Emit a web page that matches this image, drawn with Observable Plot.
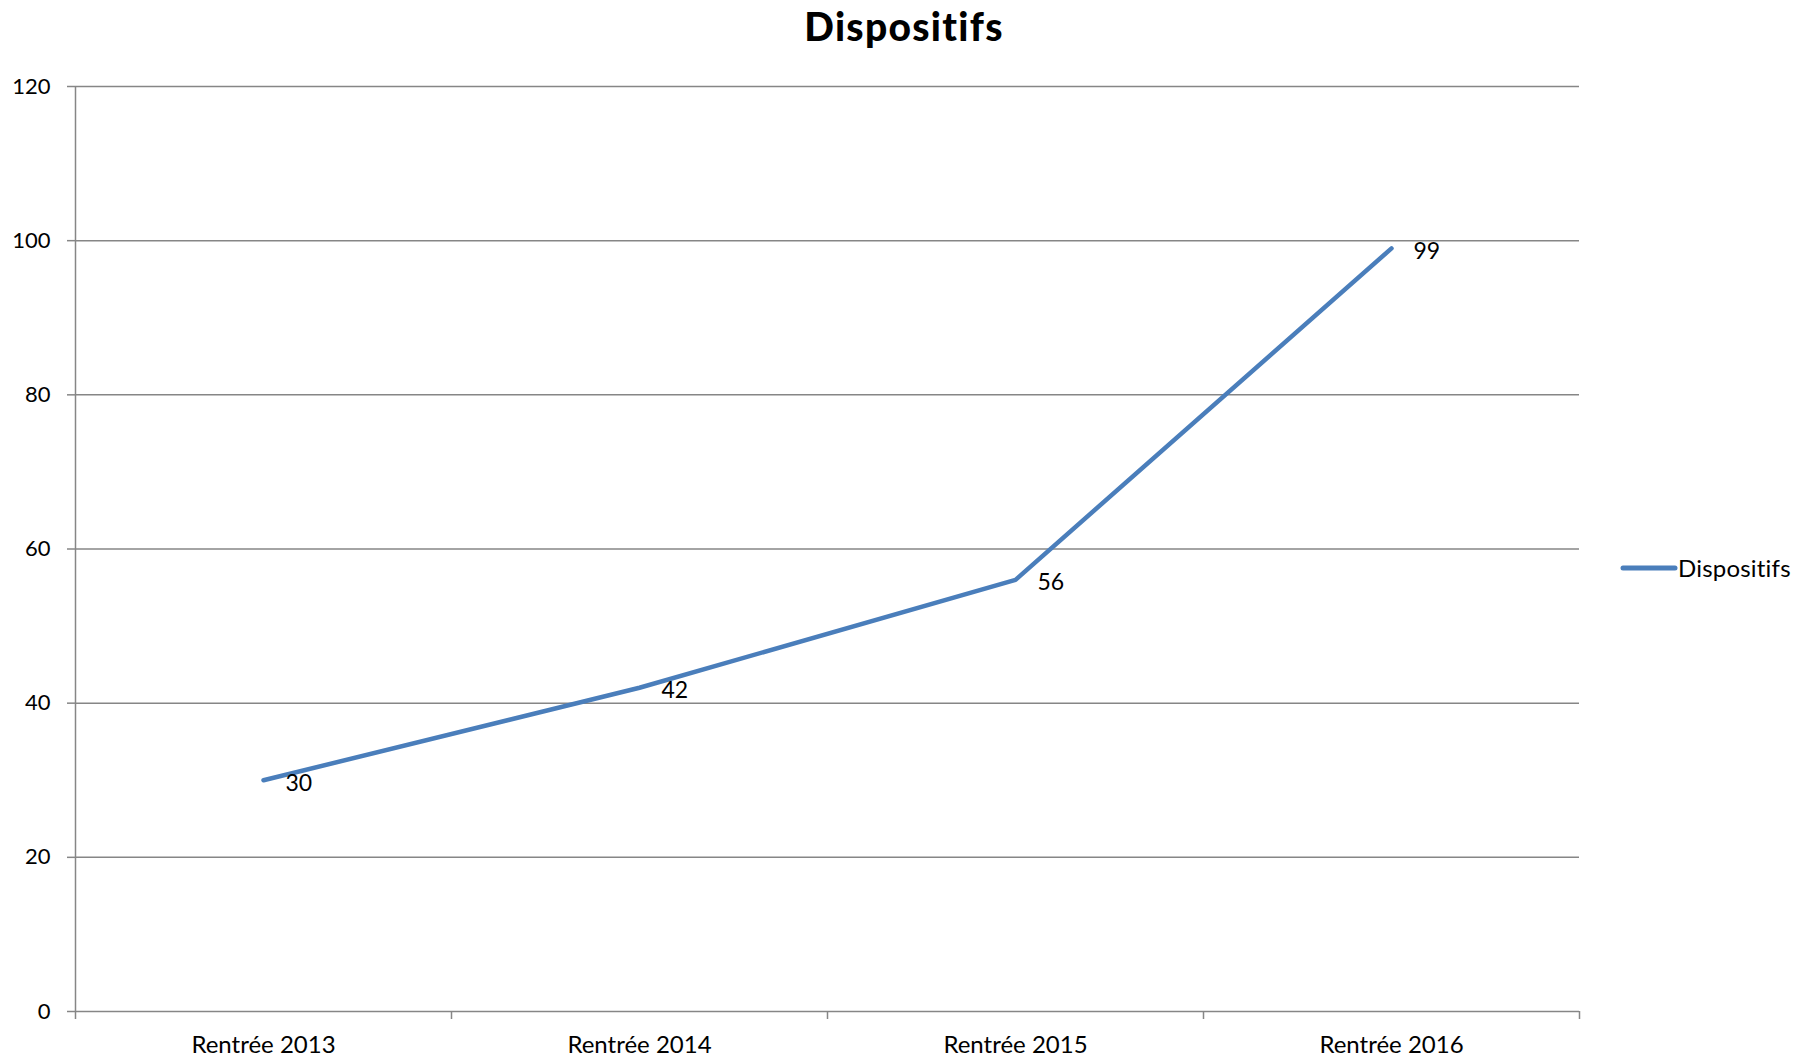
<!DOCTYPE html>
<html><head><meta charset="utf-8">
<script src="https://cdn.jsdelivr.net/npm/d3@7"></script>
<script src="https://cdn.jsdelivr.net/npm/@observablehq/plot@0.6"></script>
<style>
body{margin:0;background:#fff;font-family:Lato,"Open Sans",sans-serif;}
#wrap{position:relative;width:1808px;height:1059px;}
#title{position:absolute;left:0;top:0;width:1808px;height:52px;line-height:52px;text-align:center;font-weight:900;font-size:39px;letter-spacing:1.3px;color:#000;}
#chart{position:absolute;left:0;top:50px;}
#legend{position:absolute;left:1620px;top:553px;display:flex;align-items:center;font-size:24px;letter-spacing:0.2px;color:#000;}
</style></head>
<body><div id="wrap"><div id="title">Dispositifs</div><div id="chart"></div>
<div id="legend"><svg width="58" height="28"><line x1="3" y1="14" x2="55" y2="14" stroke="#4a7ebb" stroke-width="5" stroke-linecap="round"/></svg><span id="legtext"></span></div></div>
<script>
const categories = ["Rentrée 2013", "Rentrée 2014", "Rentrée 2015", "Rentrée 2016"];
const values = [30, 42, 56, 99];
const seriesName = "Dispositifs";
const yTicks = [0, 20, 40, 60, 80, 100, 120];

document.getElementById("legtext").textContent = seriesName;
const data = categories.map((c, i) => ({cat: c, pos: i + 0.5, value: values[i]}));
const centers = categories.map((c, i) => i + 0.5);
const bounds = d3.range(categories.length + 1);

const chart = Plot.plot({
  width: 1808,
  height: 1009,
  marginTop: 36,
  marginBottom: 48,
  marginLeft: 75,
  marginRight: 229,
  style: {fontFamily: "Lato, 'Open Sans', sans-serif", fontSize: "22px", color: "#000", background: "#fff"},
  x: {domain: [0, categories.length], axis: null},
  y: {domain: [0, 120], axis: null},
  marks: [
    Plot.ruleY(yTicks, {stroke: "#868686", strokeWidth: 1.5}),
    Plot.ruleX([0], {stroke: "#868686", strokeWidth: 1.5}),
    Plot.axisY({ticks: yTicks, tickSize: 8, tickPadding: 17, stroke: "#868686", strokeWidth: 1.5, label: null, fontSize: 22, fill: "#000"}),
    Plot.axisX({ticks: bounds, tickSize: 8, tickFormat: () => "", stroke: "#868686", strokeWidth: 1.5, label: null}),
    Plot.axisX({ticks: centers, tickSize: 0, tickPadding: 24, tickFormat: (d) => categories[Math.round(d - 0.5)], label: null, fontSize: 24, fill: "#000", style: {letterSpacing: "0.3px"}}),
    Plot.line(data, {x: "pos", y: "value", stroke: "#4a7ebb", strokeWidth: 4.5, strokeLinecap: "round", strokeLinejoin: "round"}),
    Plot.text(data, {x: "pos", y: "value", text: (d) => String(d.value), dx: 22, dy: 3, textAnchor: "start", fontSize: 23, fill: "#000"})
  ]
});
document.getElementById("chart").appendChild(chart);
</script></body></html>
